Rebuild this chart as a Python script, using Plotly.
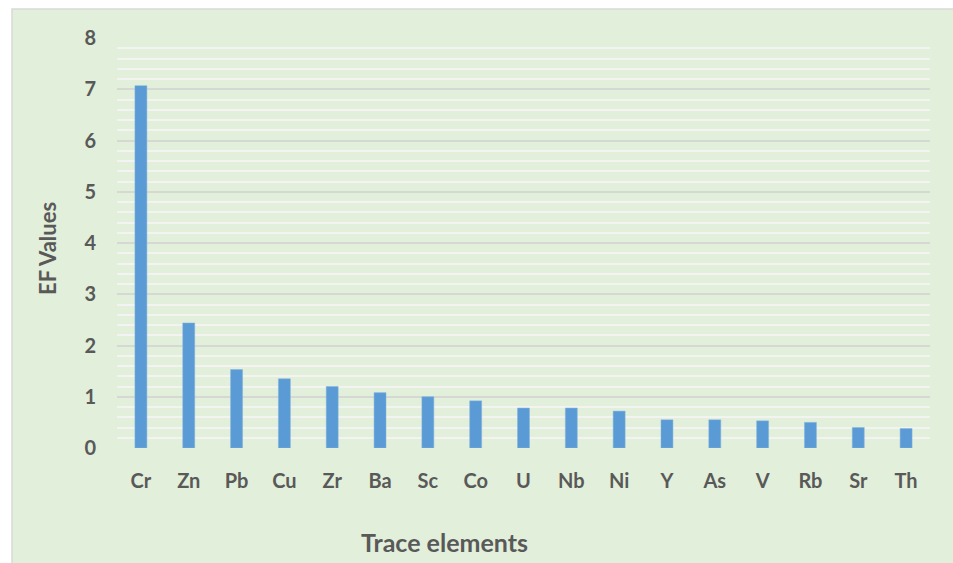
import plotly.graph_objects as go

# Enrichment factors of trace elements
elements = ["Cr", "Zn", "Pb", "Cu", "Zr", "Ba", "Sc", "Co", "U",
            "Nb", "Ni", "Y", "As", "V", "Rb", "Sr", "Th"]
ef_values = [7.07, 2.44, 1.53, 1.35, 1.20, 1.08, 1.00, 0.92, 0.78,
             0.78, 0.72, 0.55, 0.55, 0.53, 0.50, 0.40, 0.38]
y_ticks = [0, 1, 2, 3, 4, 5, 6, 7, 8]

W, H = 953, 563
L, R, T, B = 117, 23, 38, 115
pw, ph = W - L - R, H - T - B

def px_x(p):
    return (p - L) / pw

def px_y(p):
    return (H - B - p) / ph

TEXT = "#595959"
FONT = "Lato"

fig = go.Figure(go.Bar(
    x=elements, y=ef_values,
    marker=dict(color="#5B9BD5", line=dict(color="#7FB2E0", width=0.5)),
))

fig.update_layout(
    width=W, height=H,
    margin=dict(l=L, r=R, t=T, b=B),
    paper_bgcolor="white",
    plot_bgcolor="rgba(0,0,0,0)",
    bargap=0.75,
    showlegend=False,
    font=dict(family=FONT, color=TEXT),
    xaxis=dict(
        showgrid=False, zeroline=False, showline=False, ticks="",
        tickfont=dict(family=FONT, size=20, color=TEXT, weight="bold"),
        ticklabelstandoff=19,
    ),
    yaxis=dict(
        range=[0, 8], tickvals=y_ticks, ticktext=[str(v) for v in y_ticks],
        showgrid=True, gridcolor="#D6D8D4", gridwidth=1.6,
        zeroline=False, showline=False, ticks="",
        tickfont=dict(family=FONT, size=20, color=TEXT, weight="bold"),
        ticklabelstandoff=20,
        minor=dict(dtick=0.2, showgrid=True, gridcolor="#F3F4F1", gridwidth=1.5),
    ),
    shapes=[dict(
        type="rect", xref="paper", yref="paper", layer="below",
        x0=px_x(12), x1=px_x(W + 10), y0=px_y(H + 10), y1=px_y(9),
        fillcolor="#E2EFDA", line=dict(color="#D9D9D9", width=1.5),
    )],
    annotations=[
        dict(text="<b>Trace elements</b>", xref="paper", yref="paper",
             x=px_x(444.5), y=px_y(542), xanchor="center", yanchor="middle",
             showarrow=False, font=dict(family=FONT, size=25, color=TEXT)),
        dict(text="<b>EF Values</b>", xref="paper", yref="paper",
             x=px_x(47), y=px_y(249), xanchor="center", yanchor="middle",
             textangle=-90, showarrow=False,
             font=dict(family=FONT, size=22, color=TEXT)),
    ],
)

fig.write_html("out.html")
